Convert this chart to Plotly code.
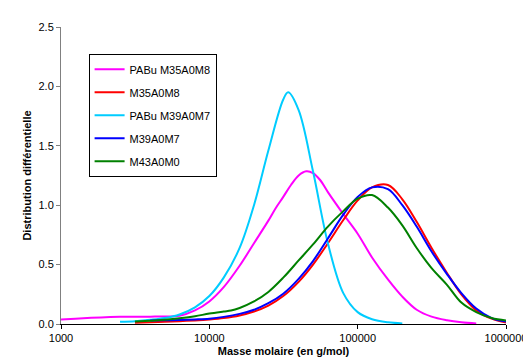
import plotly.graph_objects as go

# ---- data (molar mass in g/mol, differential distribution) ----
pabu35_M = [1000, 1250, 1600, 2000, 2500, 3150, 4000, 5000, 6300, 8000,
            10000, 12500, 16000, 20000, 25000, 28000, 31500, 35500, 40000, 45000, 50000,
            56000, 63000, 80000, 100000, 125000, 160000, 200000, 250000, 315000,
            400000, 500000, 630000]
pabu35_y = [0.038, 0.045, 0.052, 0.057, 0.060, 0.061, 0.062, 0.063, 0.070, 0.115,
            0.19, 0.31, 0.49, 0.68, 0.87, 0.975, 1.07, 1.17, 1.25, 1.285, 1.27,
            1.21, 1.11, 0.925, 0.76, 0.56, 0.375, 0.23, 0.12, 0.062,
            0.032, 0.015, 0.005]

m35_M = [3150, 4000, 5000, 6300, 8000, 10000, 12500, 16000, 20000, 25000, 31500, 40000,
         50000, 63000, 80000, 100000, 125000, 160000, 200000, 250000, 315000,
         400000, 500000, 630000, 800000, 1000000]
m35_y = [0.010, 0.014, 0.018, 0.024, 0.030, 0.038, 0.050, 0.072, 0.105, 0.155, 0.235, 0.355,
         0.50, 0.68, 0.875, 1.04, 1.15, 1.17, 1.05, 0.86, 0.64,
         0.43, 0.25, 0.115, 0.045, 0.013]

pabu39_M = [2500, 3150, 4000, 5000, 6300, 8000, 10000, 12500, 16000, 20000, 25000, 31500,
            34000, 40000, 50000, 63000, 80000, 100000, 125000, 160000, 200000]
pabu39_y = [0.018, 0.024, 0.035, 0.050, 0.080, 0.14, 0.235, 0.39, 0.64, 1.00, 1.46, 1.89,
            1.95, 1.80, 1.285, 0.68, 0.26, 0.10, 0.04, 0.014, 0.005]

m39_M = [4000, 5000, 6300, 8000, 10000, 12500, 16000, 20000, 25000, 31500, 40000,
         50000, 63000, 80000, 100000, 125000, 160000, 200000, 250000, 315000,
         400000, 500000, 630000, 800000, 1000000]
m39_y = [0.030, 0.031, 0.033, 0.038, 0.045, 0.060, 0.085, 0.12, 0.175, 0.255, 0.38,
         0.53, 0.72, 0.92, 1.07, 1.15, 1.135, 1.00, 0.82, 0.61,
         0.42, 0.26, 0.13, 0.05, 0.02]

m43_M = [3150, 4000, 5000, 6300, 8000, 10000, 12500, 14000, 16000, 20000, 25000, 31500,
         40000, 50000, 63000, 80000, 100000, 125000, 160000, 200000, 250000,
         315000, 400000, 500000, 630000, 800000, 1000000]
m43_y = [0.020, 0.028, 0.036, 0.048, 0.065, 0.088, 0.105, 0.113, 0.135, 0.19, 0.27, 0.39,
         0.535, 0.67, 0.82, 0.95, 1.055, 1.085, 0.98, 0.83, 0.64,
         0.47, 0.33, 0.18, 0.10, 0.05, 0.03]

x_tickvals = [1000, 10000, 100000, 1000000]
x_ticktext = ["1000", "10000", "100000", "1000000"]
y_tickvals = [0.0, 0.5, 1.0, 1.5, 2.0, 2.5]

series = [
    ("PABu M35A0M8", pabu35_M, pabu35_y, "#FF00FF"),
    ("M35A0M8", m35_M, m35_y, "#FF0000"),
    ("PABu M39A0M7", pabu39_M, pabu39_y, "#00CCFF"),
    ("M39A0M7", m39_M, m39_y, "#0000FF"),
    ("M43A0M0", m43_M, m43_y, "#008000"),
]

FONT = "Liberation Sans, Arial, sans-serif"

fig = go.Figure()
for i, (name, xs, ys, col) in enumerate(series):
    fig.add_trace(go.Scatter(
        x=xs, y=ys, name=name, mode="lines",
        line=dict(color=col, width=2, shape="spline", smoothing=1.0),
        legendgroup=f"g{i}",
    ))

fig.update_layout(
    width=531, height=360,
    margin=dict(l=53, r=23, t=19, b=41),
    paper_bgcolor="white", plot_bgcolor="white",
    font=dict(family=FONT, size=11, color="black"),
    showlegend=True,
    legend=dict(
        x=0.062, y=0.91, xanchor="left", yanchor="top",
        bordercolor="black", borderwidth=1, bgcolor="white",
        font=dict(family=FONT, size=11),
        traceorder="grouped", tracegroupgap=4,
        itemwidth=30,
    ),
    xaxis=dict(
        type="log", range=[3, 6],
        tickvals=x_tickvals, ticktext=x_ticktext,
        ticks="outside", ticklen=4, tickcolor="black",
        showline=True, linecolor="black", linewidth=1,
        showgrid=False, zeroline=False,
        title=dict(text="<b>Masse molaire (en g/mol)</b>", standoff=4,
                   font=dict(size=11)),
    ),
    yaxis=dict(
        range=[0, 2.5], tickvals=y_tickvals, tickformat=".1f",
        ticks="outside", ticklen=4, tickcolor="#808080",
        showline=True, linecolor="#808080", linewidth=1,
        showgrid=False, zeroline=False,
        title=dict(text="<b>Distribution différentielle</b>", standoff=4,
                   font=dict(size=11)),
    ),
)

fig.write_html("out.html")
